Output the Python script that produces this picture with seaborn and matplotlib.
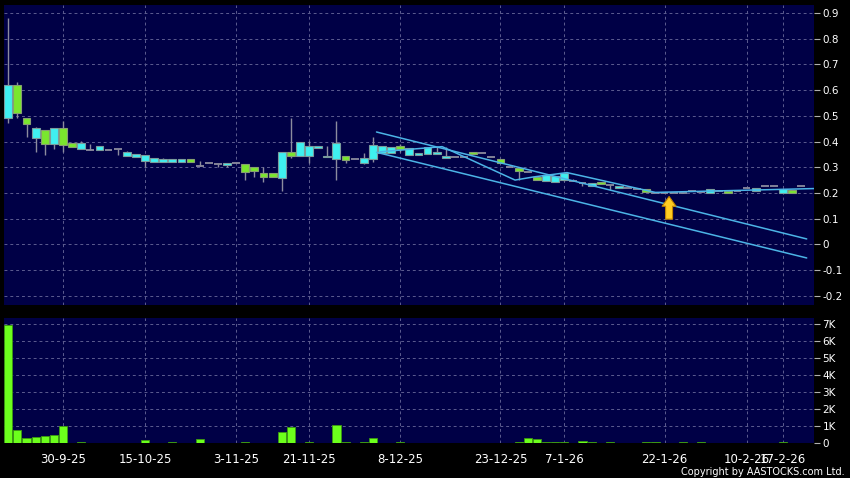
import numpy as np
import pandas as pd
import seaborn as sns
import matplotlib.pyplot as plt

# daily prices (one row per trading day)
opens = [0.490, 0.620, 0.490, 0.415, 0.444, 0.389, 0.451, 0.393, 0.370, 0.367,
         0.367, 0.367, 0.370, 0.345, 0.339, 0.323, 0.321, 0.322, 0.319, 0.319,
         0.331, 0.305, 0.315, 0.311, 0.310, 0.317, 0.311, 0.300, 0.276, 0.276,
         0.259, 0.358, 0.345, 0.345, 0.373, 0.339, 0.330, 0.345, 0.330, 0.317,
         0.330, 0.357, 0.357, 0.382, 0.347, 0.347, 0.350, 0.350, 0.337, 0.341,
         0.339, 0.358, 0.355, 0.339, 0.331, 0.302, 0.298, 0.283, 0.263, 0.246,
         0.244, 0.252, 0.247, 0.237, 0.226, 0.244, 0.231, 0.218, 0.218, 0.214,
         0.216, 0.201, 0.201, 0.200, 0.201, 0.208, 0.204, 0.199, 0.206, 0.208,
         0.209, 0.218, 0.208, 0.227, 0.227, 0.199, 0.211, 0.227]
highs = [0.879, 0.633, 0.490, 0.455, 0.444, 0.451, 0.480, 0.393, 0.403, 0.390,
         0.382, 0.367, 0.370, 0.362, 0.351, 0.347, 0.335, 0.334, 0.331, 0.331,
         0.331, 0.324, 0.315, 0.311, 0.318, 0.317, 0.311, 0.300, 0.300, 0.276,
         0.358, 0.490, 0.399, 0.402, 0.384, 0.382, 0.480, 0.345, 0.330, 0.357,
         0.416, 0.384, 0.380, 0.392, 0.374, 0.357, 0.380, 0.380, 0.380, 0.341,
         0.339, 0.360, 0.355, 0.339, 0.331, 0.302, 0.298, 0.283, 0.263, 0.270,
         0.266, 0.279, 0.255, 0.237, 0.240, 0.244, 0.231, 0.227, 0.218, 0.214,
         0.216, 0.201, 0.201, 0.200, 0.201, 0.208, 0.204, 0.214, 0.206, 0.208,
         0.209, 0.218, 0.218, 0.227, 0.227, 0.217, 0.211, 0.227]
lows = [0.471, 0.493, 0.419, 0.358, 0.348, 0.371, 0.358, 0.380, 0.370, 0.367,
        0.367, 0.367, 0.347, 0.345, 0.339, 0.300, 0.321, 0.322, 0.319, 0.319,
        0.322, 0.305, 0.315, 0.300, 0.300, 0.317, 0.250, 0.263, 0.244, 0.262,
        0.207, 0.335, 0.345, 0.317, 0.373, 0.339, 0.250, 0.315, 0.330, 0.312,
        0.321, 0.357, 0.357, 0.360, 0.347, 0.347, 0.350, 0.350, 0.337, 0.341,
        0.339, 0.350, 0.355, 0.339, 0.317, 0.302, 0.250, 0.283, 0.250, 0.246,
        0.244, 0.245, 0.247, 0.225, 0.226, 0.235, 0.212, 0.218, 0.218, 0.214,
        0.205, 0.201, 0.201, 0.200, 0.201, 0.208, 0.204, 0.199, 0.206, 0.201,
        0.209, 0.218, 0.208, 0.227, 0.227, 0.199, 0.201, 0.227]
closes = [0.620, 0.510, 0.467, 0.451, 0.391, 0.451, 0.386, 0.380, 0.393, 0.367,
          0.382, 0.367, 0.370, 0.358, 0.351, 0.347, 0.335, 0.331, 0.331, 0.331,
          0.322, 0.305, 0.315, 0.311, 0.318, 0.317, 0.280, 0.287, 0.263, 0.262,
          0.358, 0.345, 0.399, 0.384, 0.384, 0.345, 0.393, 0.328, 0.330, 0.337,
          0.386, 0.384, 0.380, 0.371, 0.374, 0.357, 0.380, 0.358, 0.345, 0.341,
          0.339, 0.350, 0.355, 0.339, 0.317, 0.302, 0.285, 0.283, 0.250, 0.270,
          0.266, 0.279, 0.247, 0.237, 0.240, 0.235, 0.231, 0.227, 0.218, 0.214,
          0.205, 0.201, 0.201, 0.200, 0.201, 0.208, 0.204, 0.214, 0.206, 0.201,
          0.209, 0.218, 0.218, 0.227, 0.227, 0.217, 0.201, 0.227]
volumes = [6940, 740, 310, 370, 430, 470, 1020, 10, 80, 0,
           10, 0, 10, 10, 20, 200, 10, 10, 30, 10,
           10, 210, 0, 10, 10, 0, 50, 10, 10, 10,
           660, 960, 10, 50, 10, 10, 1070, 80, 0, 80,
           310, 10, 10, 50, 10, 10, 20, 10, 10, 0,
           0, 10, 0, 0, 20, 0, 50, 310, 250, 50,
           50, 50, 20, 140, 60, 10, 40, 10, 10, 10,
           70, 30, 10, 10, 30, 10, 60, 10, 20, 10,
           10, 10, 10, 10, 10, 50, 10, 0]

date_labels = ["30-9-25", "15-10-25", "3-11-25", "21-11-25", "8-12-25",
               "23-12-25", "7-1-26", "22-1-26", "10-2-26", "17-2-26"]
date_days = [6, 15, 25, 33, 43, 54, 61, 72, 81, 85]

# drawn trend lines (day, price)
upper_day, upper_px = [40.4, 87.6], [0.437, 0.021]
lower_day, lower_px = [40.4, 87.6], [0.358, -0.053]
zig_day = [40.8, 47.6, 55.6, 57.6, 61.3, 71.0, 88.5]
zig_px = [0.360, 0.380, 0.250, 0.262, 0.279, 0.202, 0.217]
arrow_day, arrow_top, arrow_bottom = 72.5, 0.186, 0.098

df = pd.DataFrame({"open": opens, "high": highs, "low": lows,
                   "close": closes, "volume": volumes})
df["day"] = np.arange(len(df))

sns.set_theme(style="dark")
plt.rcParams["font.family"] = ["DejaVu Sans"]

bg = "#000046"
grid_c = "#5c5c90"
up_c, down_c, flat_c = "#3ff0f0", "#7ae62e", "#8c8c9e"
line_c = "#4cb4e6"

fig = plt.figure(figsize=(8.5, 4.78), dpi=100, facecolor="black")
ax = fig.add_axes([4 / 850, 1 - 305 / 478, 810 / 850, 300 / 478])
axv = fig.add_axes([4 / 850, 1 - 443 / 478, 810 / 850, 125 / 478])

for a in (ax, axv):
    a.set_facecolor(bg)
    a.set_axisbelow(True)
    for s in a.spines.values():
        s.set_visible(False)
    a.grid(True, color=grid_c, linestyle=(0, (3, 3)), linewidth=0.7)
    a.set_xlim(-0.47, 88.4)
    a.set_xticks(date_days)
    a.yaxis.tick_right()
    a.tick_params(axis="y", colors="#b0b0b0", labelcolor="white", labelsize=7.5,
                  length=4, width=0.8, direction="out", pad=2)

# candles
up = df[df.close > df.open]
down = df[df.close < df.open]
flat = df[df.close == df.open]
ax.vlines(df.day, df.low, df.high, color=flat_c, linewidth=1, zorder=2)
ax.bar(up.day, up.close - up.open, bottom=up.open, width=0.86, color=up_c,
       edgecolor="#7a9c9c", linewidth=0.8, zorder=3)
ax.bar(down.day, down.open - down.close, bottom=down.close, width=0.86, color=down_c,
       edgecolor="#86a070", linewidth=0.8, zorder=3)
ax.hlines(flat.close, flat.day - 0.43, flat.day + 0.43, color=flat_c, linewidth=1.3, zorder=3)

# trend lines
ax.plot(upper_day, upper_px, color=line_c, linewidth=1.1, zorder=4)
ax.plot(lower_day, lower_px, color=line_c, linewidth=1.1, zorder=4)
ax.plot(zig_day, zig_px, color=line_c, linewidth=1.1, zorder=4)
ax.annotate("", xy=(arrow_day, arrow_top), xytext=(arrow_day, arrow_bottom),
            arrowprops=dict(arrowstyle="simple,head_width=1.0,head_length=0.7,tail_width=0.5",
                            mutation_scale=10, fc="#ffcc22", ec="#c08400", lw=0.8,
                            shrinkA=0, shrinkB=0), zorder=5)

ax.set_ylim(-0.236, 0.931)
ax.set_yticks(np.arange(-0.2, 0.95, 0.1))
ax.set_yticklabels([f"{round(v, 1) + 0.0:g}" for v in np.arange(-0.2, 0.95, 0.1)])
ax.tick_params(axis="x", length=0, labelbottom=False)

# volume
sns.barplot(data=df, x="day", y="volume", ax=axv, native_scale=True, color="#6cff1c",
            edgecolor="#3c9a10", linewidth=0.6, width=0.9, errorbar=None, saturation=1)
axv.set_xlim(-0.47, 88.4)
axv.set_xticks(date_days)
axv.set_xticklabels(date_labels)
axv.set_xlabel("")
axv.set_ylabel("")
axv.set_ylim(0, 7340)
axv.set_yticks(range(0, 7001, 1000))
axv.set_yticklabels(["0"] + [f"{k}K" for k in range(1, 8)])
axv.tick_params(axis="x", colors="#b0b0b0", labelcolor="white", labelsize=8.5,
                length=3, width=0.8, direction="out", pad=4)

fig.text(845 / 850, 1 - 472 / 478, "Copyright by AASTOCKS.com Ltd.", ha="right",
         va="center", color="white", fontsize=7)

fig.savefig("out.png", dpi=100, facecolor="black")
